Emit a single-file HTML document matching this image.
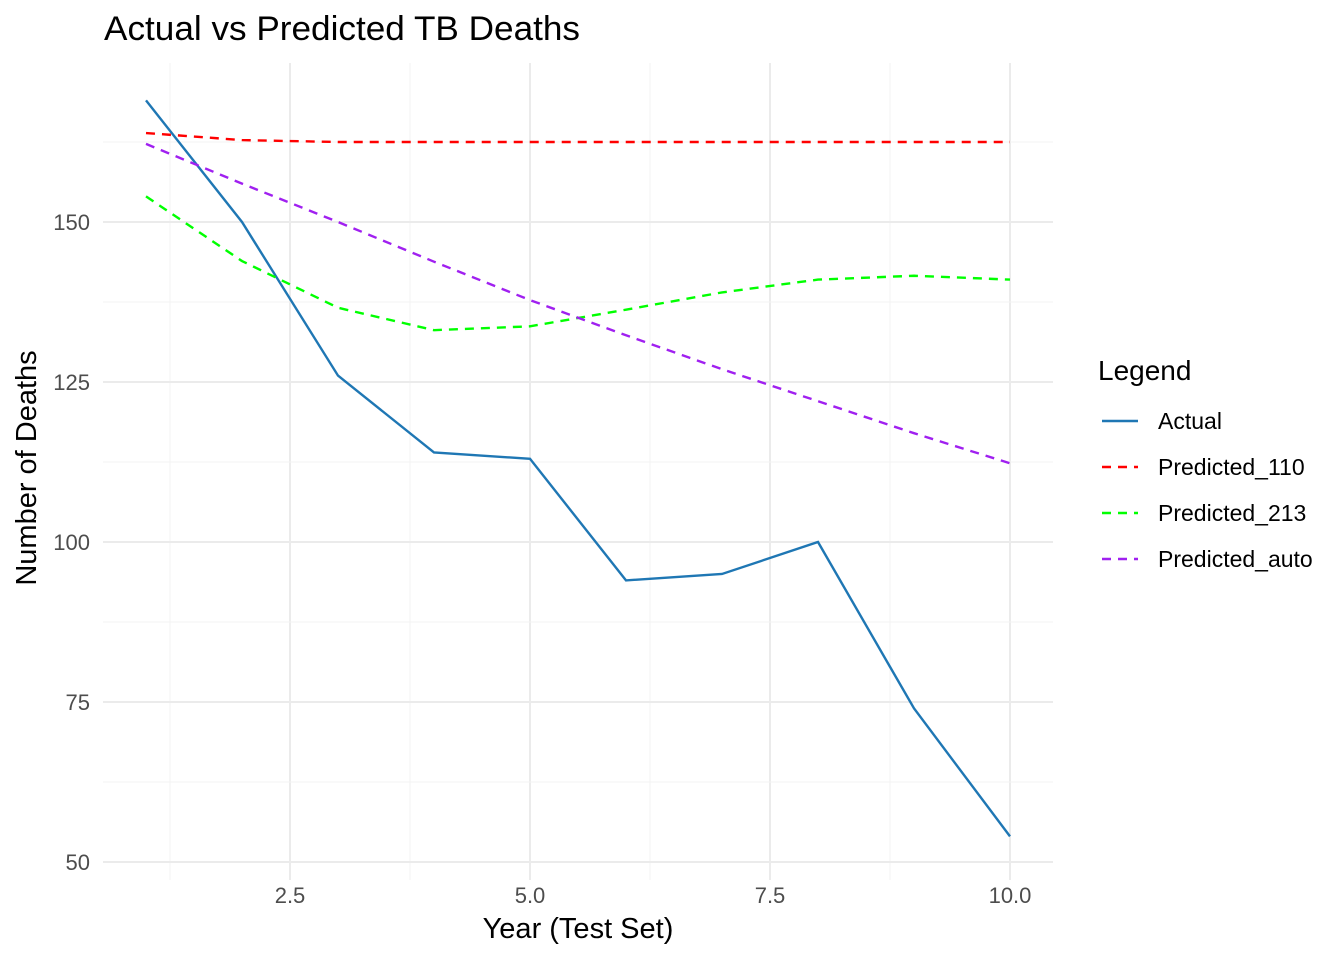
<!DOCTYPE html>
<html><head><meta charset="utf-8"><style>body{margin:0;background:#fff}svg{display:block;font-family:"Liberation Sans",sans-serif}</style></head>
<body>
<svg id="chart" width="1344" height="960" viewBox="0 0 1344 960">
<rect width="1344" height="960" fill="#fff"/>
<g id="grid"></g><g id="series"></g><g id="axes"></g>
<text x="104" y="40" font-size="34" fill="#000" textLength="476" lengthAdjust="spacingAndGlyphs">Actual vs Predicted TB Deaths</text>
<text x="578" y="938" font-size="29" text-anchor="middle">Year (Test Set)</text>
<text transform="translate(36,468) rotate(-90)" font-size="29" text-anchor="middle">Number of Deaths</text>
<g id="legend"></g>
</svg>
<script>
const years=[1,2,3,4,5,6,7,8,9,10];
const actual=[169,150,126,114,113,94,95,100,74,54];
const pred110=[163.9,162.8,162.5,162.5,162.5,162.5,162.5,162.5,162.5,162.5];
const pred213=[154,143.9,136.6,133.1,133.7,136.3,139,141,141.6,141];
const predAuto=[162.2,156,150,143.8,137.8,132.3,127,122,117,112.3];
const xTicks=[2.5,5.0,7.5,10.0];
const yTicks=[50,75,100,125,150];
const X=v=>146+(v-1)*96, Y=v=>862-(v-50)*6.4;
const ns="http://www.w3.org/2000/svg";
function mk(t,a,p){const e=document.createElementNS(ns,t);for(const k in a)e.setAttribute(k,a[k]);p.appendChild(e);return e;}
const grid=document.getElementById('grid'),axes=document.getElementById('axes'),ser=document.getElementById('series'),leg=document.getElementById('legend');
const L=103,R=1053,T=63,B=880;
xTicks.forEach((t,i)=>{
 const g=mk('line',{x1:X(t),x2:X(t),y1:T,y2:B,stroke:'#ebebeb','stroke-width':2},grid);
 
 const m=mk('line',{x1:X(t-1.25),x2:X(t-1.25),y1:T,y2:B,stroke:'#f3f3f3','stroke-width':1},grid);
 
 const tx=mk('text',{x:X(t),y:903,'font-size':22,fill:'#4d4d4d','text-anchor':'middle'},axes);
 
 tx.textContent=t.toFixed(1);
});
yTicks.forEach(t=>{
 const g=mk('line',{x1:L,x2:R,y1:Y(t),y2:Y(t),stroke:'#ebebeb','stroke-width':2},grid);
 
 const m=mk('line',{x1:L,x2:R,y1:Y(t+12.5),y2:Y(t+12.5),stroke:'#f3f3f3','stroke-width':1},grid);
 
 const tx=mk('text',{x:90,y:Y(t)+8,'font-size':22,fill:'#4d4d4d','text-anchor':'end'},axes);
 
 tx.textContent=t;
});
const series=[['Actual',actual,'#1f77b4',''],['Predicted_110',pred110,'#ff0000','9,7'],['Predicted_213',pred213,'#00ff00','9,7'],['Predicted_auto',predAuto,'#a020f0','9,7']];
series.forEach((s,i)=>{
 const p=mk('polyline',{points:years.map((x,j)=>X(x)+','+Y(s[1][j])).join(' '),fill:'none',stroke:s[2],'stroke-width':2.4,'stroke-dasharray':s[3]},ser);
 
 const y=421+i*46;
 const l=mk('line',{x1:1102,x2:1138,y1:y,y2:y,stroke:s[2],'stroke-width':2.4,'stroke-dasharray':s[3]},leg);
 
 const t=mk('text',{x:1158,y:y+8,'font-size':23},leg);
 
 t.textContent=s[0];
});
const lt=mk('text',{x:1098,y:380,'font-size':28},leg);

lt.textContent='Legend';
</script>
</body></html>
